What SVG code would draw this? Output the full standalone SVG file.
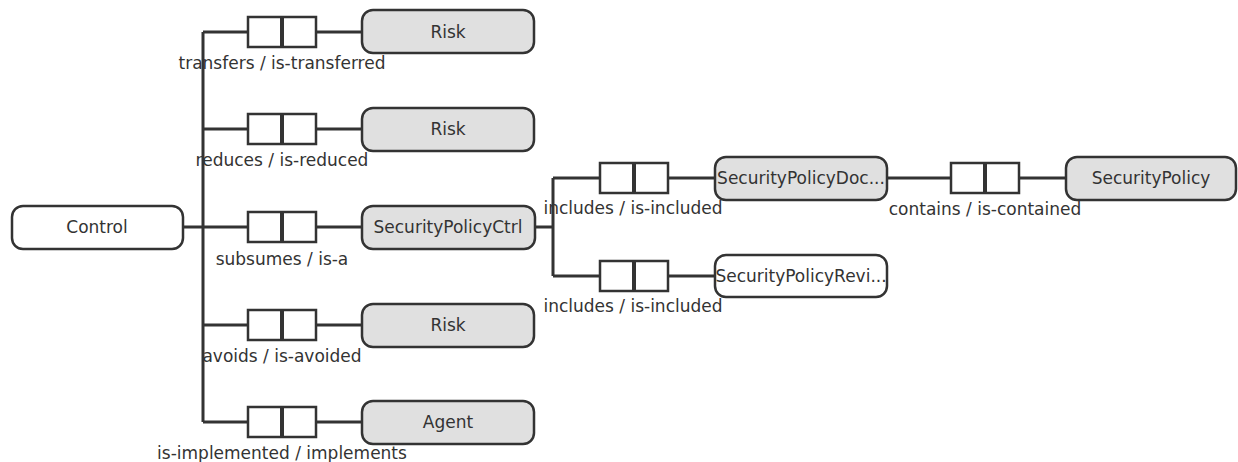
<svg xmlns="http://www.w3.org/2000/svg" width="1238" height="462" viewBox="0 0 1238 462">
<style>
.node{stroke:#333;stroke-width:2.5;}
.filled{fill:#e0e0e0;}
.empty{fill:#fff;}
.nt{font-family:"DejaVu Sans",sans-serif;font-size:17px;fill:#333;text-anchor:middle;}
.lbl{font-family:"DejaVu Sans",sans-serif;font-size:17px;fill:#333;text-anchor:middle;}
.ln{stroke:#333;stroke-width:3;fill:none;}
.rb{stroke:#333;stroke-width:2.5;fill:#fff;}
.div{stroke:#333;stroke-width:4;}
</style>
<rect width="1238" height="462" fill="#fff"/>
<defs>
<g id="relbox">
<rect class="rb" x="-34" y="-15" width="68" height="30"/>
<line class="div" x1="0" y1="-15" x2="0" y2="15"/>
</g>
</defs>
<g id="connectors">
<path class="ln" d="M183 227 H203 M203 32 V422 M203 32 H362 M203 129 H362 M203 227 H362 M203 325 H362 M203 422 H362"/>
<path class="ln" d="M535 227 H553 M553 178 V276 M553 178 H715 M553 276 H715"/>
<path class="ln" d="M887 178 H1066"/>
<use href="#relbox" x="282" y="32"/>
<use href="#relbox" x="282" y="129"/>
<use href="#relbox" x="282" y="227"/>
<use href="#relbox" x="282" y="325"/>
<use href="#relbox" x="282" y="422"/>
<use href="#relbox" x="634" y="178"/>
<use href="#relbox" x="634" y="276"/>
<use href="#relbox" x="985" y="178"/>
<text class="lbl" x="282" y="69">transfers / is-transferred</text>
<text class="lbl" x="282" y="166">reduces / is-reduced</text>
<text class="lbl" x="282" y="265">subsumes / is-a</text>
<text class="lbl" x="282" y="362">avoids / is-avoided</text>
<text class="lbl" x="282" y="459">is-implemented / implements</text>
<text class="lbl" x="633" y="214">includes / is-included</text>
<text class="lbl" x="633" y="312">includes / is-included</text>
<text class="lbl" x="985" y="215">contains / is-contained</text>
</g>
<g id="control"><rect class="node empty" x="12" y="206" width="171" height="43" rx="11"/><text class="nt" x="97" y="233">Control</text></g>
<g id="risk1"><rect class="node filled" x="362" y="10" width="172" height="43" rx="11"/><text class="nt" x="448" y="38">Risk</text></g>
<g id="risk2"><rect class="node filled" x="362" y="108" width="172" height="43" rx="11"/><text class="nt" x="448" y="135">Risk</text></g>
<g id="spctrl"><rect class="node filled" x="362" y="206" width="173" height="43" rx="11"/><text class="nt" x="448" y="233">SecurityPolicyCtrl</text></g>
<g id="risk3"><rect class="node filled" x="362" y="304" width="172" height="43" rx="11"/><text class="nt" x="448" y="331">Risk</text></g>
<g id="agent"><rect class="node filled" x="362" y="401" width="172" height="43" rx="11"/><text class="nt" x="448" y="428">Agent</text></g>
<g id="spdoc"><rect class="node filled" x="715" y="157" width="172" height="43" rx="11"/><text class="nt" x="801" y="184">SecurityPolicyDoc...</text></g>
<g id="sprev"><rect class="node empty" x="715" y="255" width="172" height="42" rx="11"/><text class="nt" x="801" y="282">SecurityPolicyRevi...</text></g>
<g id="sp"><rect class="node filled" x="1066" y="157" width="170" height="43" rx="11"/><text class="nt" x="1151" y="184">SecurityPolicy</text></g>
</svg>
